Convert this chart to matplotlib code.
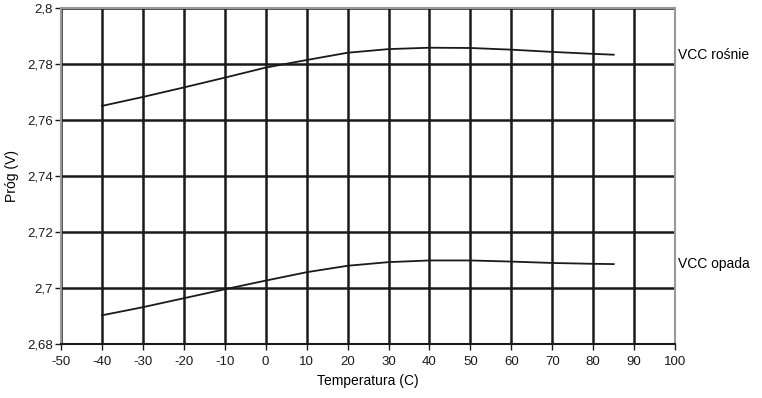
import matplotlib
matplotlib.use("Agg")
import matplotlib.pyplot as plt
from matplotlib.ticker import FuncFormatter

plt.rcParams['font.family'] = ['Liberation Sans', 'DejaVu Sans']
plt.rcParams['axes.unicode_minus'] = False

temps = [-40, -30, -20, -10, 0, 10, 20, 30, 40, 50, 60, 70, 80, 85]
vcc_rosnie = [2.7650, 2.7682, 2.7716, 2.7751, 2.7787, 2.7814, 2.7840, 2.7853, 2.7858,
              2.7857, 2.7851, 2.7843, 2.7836, 2.7833]
vcc_opada = [2.6902, 2.6931, 2.6963, 2.6995, 2.7026, 2.7056, 2.7079, 2.7092, 2.7098,
             2.7098, 2.7094, 2.7089, 2.7086, 2.7085]
x_ticks = list(range(-50, 101, 10))
y_ticks = [2.68, 2.70, 2.72, 2.74, 2.76, 2.78, 2.80]

fig = plt.figure(figsize=(7.62, 3.98), dpi=100)
ax = fig.add_axes([0.080, 0.136, 0.806, 0.844])

ax.plot(temps, vcc_rosnie, color='#1a1a1a', lw=1.3, zorder=3)
ax.plot(temps, vcc_opada, color='#1a1a1a', lw=1.3, zorder=3)

ax.set_xlim(-50, 100)
ax.set_ylim(2.68, 2.80)
ax.set_xticks(x_ticks)
ax.set_yticks(y_ticks)
ax.grid(True, color='#1a1a1a', lw=1.8, zorder=1)
ax.set_axisbelow(True)

def comma(v, pos):
    s = f"{v:.2f}".rstrip('0').rstrip('.')
    return s.replace('.', ',')

ax.yaxis.set_major_formatter(FuncFormatter(comma))
ax.tick_params(axis='both', labelsize=9.5, length=4, width=1, colors='#1a1a1a', pad=5)
ax.tick_params(axis='y', pad=2)

for side in ['top', 'right', 'left']:
    ax.spines[side].set_color('#999999')
    ax.spines[side].set_linewidth(1.5)
ax.spines['bottom'].set_color('#1a1a1a')
ax.spines['bottom'].set_linewidth(1.5)

ax.set_xlabel("Temperatura (C)", fontsize=10, labelpad=4)
ax.set_ylabel("Próg (V)", fontsize=10, labelpad=6)

ax.annotate("VCC rośnie", xy=(100, vcc_rosnie[-1]), xytext=(2, 0),
            textcoords='offset points', va='center', ha='left', fontsize=10,
            annotation_clip=False)
ax.annotate("VCC opada", xy=(100, vcc_opada[-1]), xytext=(2, 0),
            textcoords='offset points', va='center', ha='left', fontsize=10,
            annotation_clip=False)

fig.savefig("out.png", dpi=100)
